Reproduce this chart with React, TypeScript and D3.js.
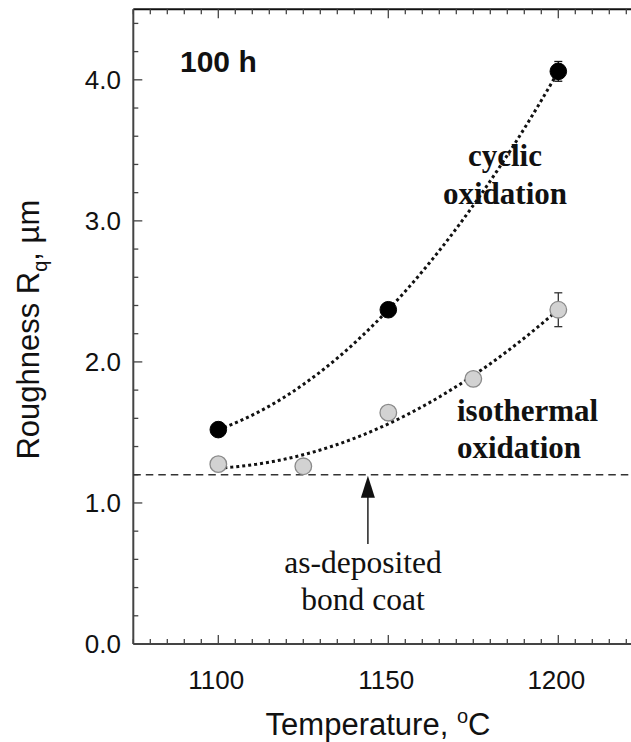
import React from "react";
import * as d3 from "d3";

const cyclicT = [1100, 1150, 1200];
const cyclicR = [1.52, 2.37, 4.06];
const cyclicErr = [0.03, 0.05, 0.07];

const isoT = [1100, 1125, 1150, 1175, 1200];
const isoR = [1.275, 1.26, 1.64, 1.88, 2.37];
const isoErr = [0.03, 0.0, 0.05, 0.0, 0.12];

const asDeposited = 1.2;
const arrowT = 1144;

const xTicks = [1100, 1150, 1200];
const yTicks = [0, 1, 2, 3, 4];

const W = 631;
const H = 742;
const left = 133.3;
const top = 9.3;
const bottom = 644;
const right = 643.3;

function quadFit(xs: number[], ys: number[]) {
  // least squares quadratic y = a + b t + c t^2, t = (x-1150)/50
  const t = xs.map((x) => (x - 1150) / 50);
  const n = xs.length;
  const S = [0, 0, 0, 0, 0];
  const R = [0, 0, 0];
  for (let i = 0; i < n; i++) {
    for (let k = 0; k < 5; k++) S[k] += Math.pow(t[i], k);
    for (let k = 0; k < 3; k++) R[k] += ys[i] * Math.pow(t[i], k);
  }
  const M = [
    [S[0], S[1], S[2], R[0]],
    [S[1], S[2], S[3], R[1]],
    [S[2], S[3], S[4], R[2]],
  ];
  for (let i = 0; i < 3; i++) {
    let p = i;
    for (let r = i + 1; r < 3; r++) if (Math.abs(M[r][i]) > Math.abs(M[p][i])) p = r;
    [M[i], M[p]] = [M[p], M[i]];
    for (let r = 0; r < 3; r++) {
      if (r === i) continue;
      const f = M[r][i] / M[i][i];
      for (let c = i; c < 4; c++) M[r][c] -= f * M[i][c];
    }
  }
  const coef = [M[0][3] / M[0][0], M[1][3] / M[1][1], M[2][3] / M[2][2]];
  return (x: number) => {
    const tt = (x - 1150) / 50;
    return coef[0] + coef[1] * tt + coef[2] * tt * tt;
  };
}

export default function App() {
  const x = d3.scaleLinear().domain([1075, 1225]).range([left, right]);
  const y = d3.scaleLinear().domain([0, 4.5]).range([bottom, top]);

  const xMinor = d3.range(1075, 1226, 5);
  const yMinor = d3.range(0, 4.51, 0.2);

  const line = d3
    .line<number[]>()
    .x((d) => x(d[0]))
    .y((d) => y(d[1]))
    .curve(d3.curveLinear);

  const fitC = quadFit(cyclicT, cyclicR);
  const fitI = quadFit(isoT, isoR);
  const ts = d3.range(1100, 1200.01, 1);
  const pathC = line(ts.map((t) => [t, fitC(t)]));
  const pathI = line(ts.map((t) => [t, fitI(t)]));

  const axisCol = "#444";
  const sans = "Liberation Sans, Arial, sans-serif";
  const serif = "Liberation Serif, Times New Roman, serif";

  const ax = x(arrowT);

  return (
    <svg
      width={W}
      height={H}
      style={{ position: "absolute", left: 0, top: 0, background: "#fff" }}
    >
      <rect x={0} y={0} width={W} height={H} fill="#fff" />
      {/* frame */}
      <line x1={left} x2={W} y1={top} y2={top} stroke="#111" strokeWidth={2} />
      <line x1={left} x2={left} y1={top} y2={bottom} stroke={axisCol} strokeWidth={2} />
      <line x1={left} x2={W} y1={bottom} y2={bottom} stroke={axisCol} strokeWidth={2} />

      {/* x ticks (bottom & top) */}
      {xMinor.map((v) => {
        const major = xTicks.includes(v);
        const len = major ? 9 : 5;
        return (
          <g key={"xt" + v}>
            <line x1={x(v)} x2={x(v)} y1={bottom} y2={bottom - len} stroke={axisCol} strokeWidth={1.3} />
            <line x1={x(v)} x2={x(v)} y1={top} y2={top + len} stroke={axisCol} strokeWidth={1.3} />
          </g>
        );
      })}
      {xTicks.map((v) => (
        <text key={"xl" + v} x={x(v) - 2} y={689} textAnchor="middle" fontFamily={sans} fontSize={26} fill="#111">
          {v}
        </text>
      ))}

      {/* y ticks */}
      {yMinor.map((v) => {
        const major = Math.abs(v - Math.round(v)) < 1e-6;
        const len = major ? 9 : 5;
        return (
          <line key={"yt" + v} x1={left} x2={left + len} y1={y(v)} y2={y(v)} stroke={axisCol} strokeWidth={1.3} />
        );
      })}
      {yTicks.map((v) => (
        <text key={"yl" + v} x={121} y={y(v) + 9} textAnchor="end" fontFamily={sans} fontSize={26} fill="#111">
          {d3.format(".1f")(v)}
        </text>
      ))}

      {/* axis titles */}
      <text x={378} y={735} textAnchor="middle" fontFamily={sans} fontSize={31} fill="#111">
        Temperature,{" "}
        <tspan fontSize={20} dy={-12}>o</tspan>
        <tspan dy={12}>C</tspan>
      </text>
      <text
        transform={`translate(39, ${(top + bottom) / 2 + 3}) rotate(-90)`}
        textAnchor="middle"
        fontFamily={sans}
        fontSize={31}
        fill="#111"
      >
        Roughness R
        <tspan fontSize={20} dy={8}>q</tspan>
        <tspan dy={-8}>, µm</tspan>
      </text>

      {/* as-deposited dashed line */}
      <line
        x1={left}
        x2={W}
        y1={y(asDeposited)}
        y2={y(asDeposited)}
        stroke="#333"
        strokeWidth={1.4}
        strokeDasharray="7.5 5"
      />

      {/* arrow */}
      <line x1={ax} x2={ax} y1={544} y2={y(asDeposited) + 18} stroke="#222" strokeWidth={1.5} />
      <path
        d={`M${ax},${y(asDeposited) + 1} L${ax - 7},${y(asDeposited) + 23} L${ax + 7},${y(asDeposited) + 23} Z`}
        fill="#111"
      />

      {/* fit curves */}
      <path d={pathC || ""} fill="none" stroke="#111" strokeWidth={3} strokeDasharray="3 3" />
      <path d={pathI || ""} fill="none" stroke="#111" strokeWidth={3} strokeDasharray="3 3" />

      {/* error bars */}
      {cyclicT.map((t, i) =>
        cyclicErr[i] > 0 ? (
          <g key={"ce" + i} stroke="#111" strokeWidth={1.3}>
            <line x1={x(t)} x2={x(t)} y1={y(cyclicR[i] - cyclicErr[i])} y2={y(cyclicR[i] + cyclicErr[i])} />
            <line x1={x(t) - 4} x2={x(t) + 4} y1={y(cyclicR[i] - cyclicErr[i])} y2={y(cyclicR[i] - cyclicErr[i])} />
            <line x1={x(t) - 4} x2={x(t) + 4} y1={y(cyclicR[i] + cyclicErr[i])} y2={y(cyclicR[i] + cyclicErr[i])} />
          </g>
        ) : null
      )}
      {isoT.map((t, i) =>
        isoErr[i] > 0 ? (
          <g key={"ie" + i} stroke="#333" strokeWidth={1.3}>
            <line x1={x(t)} x2={x(t)} y1={y(isoR[i] - isoErr[i])} y2={y(isoR[i] + isoErr[i])} />
            <line x1={x(t) - 4} x2={x(t) + 4} y1={y(isoR[i] - isoErr[i])} y2={y(isoR[i] - isoErr[i])} />
            <line x1={x(t) - 4} x2={x(t) + 4} y1={y(isoR[i] + isoErr[i])} y2={y(isoR[i] + isoErr[i])} />
          </g>
        ) : null
      )}

      {/* markers */}
      {isoT.map((t, i) => (
        <circle key={"ip" + i} cx={x(t)} cy={y(isoR[i])} r={8.3} fill="#d2d2d2" stroke="#8a8a8a" strokeWidth={1.3} />
      ))}
      {cyclicT.map((t, i) => (
        <circle key={"cp" + i} cx={x(t)} cy={y(cyclicR[i])} r={8.3} fill="#000" stroke="#000" strokeWidth={1} />
      ))}

      {/* annotations */}
      <text x={180} y={72} fontFamily={sans} fontWeight="bold" fontSize={30} fill="#111">
        100 h
      </text>
      <text textAnchor="middle" fontFamily={serif} fontWeight="bold" fontSize={31} fill="#111">
        <tspan x={505} y={166}>cyclic</tspan>
        <tspan x={505} y={204}>oxidation</tspan>
      </text>
      <text fontFamily={serif} fontWeight="bold" fontSize={31} fill="#111">
        <tspan x={457} y={421}>isothermal</tspan>
        <tspan x={457} y={458}>oxidation</tspan>
      </text>
      <text textAnchor="middle" fontFamily={serif} fontSize={31.5} fill="#111">
        <tspan x={363} y={573}>as-deposited</tspan>
        <tspan x={363} y={610}>bond coat</tspan>
      </text>
    </svg>
  );
}
